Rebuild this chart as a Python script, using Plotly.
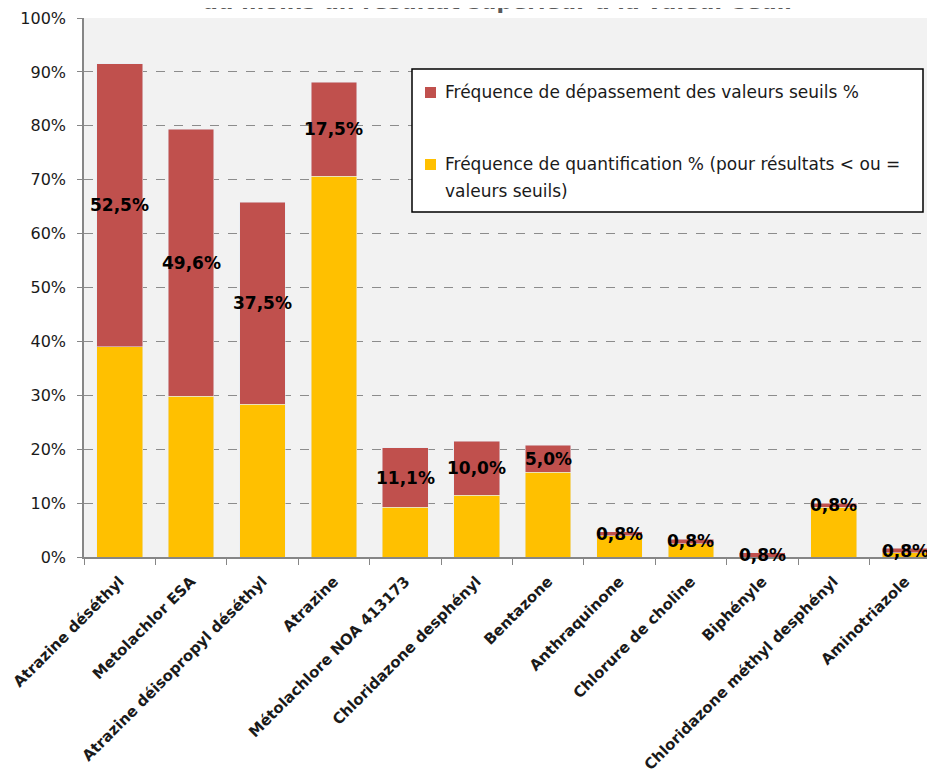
import plotly.graph_objects as go

categories = ["Atrazine déséthyl", "Metolachlor ESA", "Atrazine déisopropyl déséthyl",
              "Atrazine", "Métolachlore NOA 413173", "Chloridazone desphényl",
              "Bentazone", "Anthraquinone", "Chlorure de choline", "Biphényle",
              "Chloridazone méthyl desphényl", "Aminotriazole"]
quantif = [39.0, 29.8, 28.3, 70.6, 9.2, 11.5, 15.7, 3.9, 2.5, 0.0, 9.2, 0.8]
depass = [52.5, 49.6, 37.5, 17.5, 11.1, 10.0, 5.0, 0.8, 0.8, 0.8, 0.8, 0.8]

name_dep = "Fréquence de dépassement des valeurs seuils %"
name_q1 = "Fréquence de quantification % (pour résultats < ou ="
name_q2 = "valeurs seuils)"
title_text = "au moins un résultat supérieur à la valeur seuil"

RED = "#C0504D"
YEL = "#FFC000"
FONT = "DejaVu Sans"

# page has an 8px body margin; plot area in page pixels: x 84..943 (cropped at 935), y 18..557
OFF = 8
W, H = 943 - OFF, 772
L, T = 84 - OFF, 18 - OFF
PW = W - L
PH = 557 - 18
B = H - T - PH
XMAX = -0.5 + PW / 71.4


def px(x):
    return (x - 84) / PW


def py(y):
    return (557 - y) / PH


fig = go.Figure()
fig.add_trace(go.Bar(x=categories, y=quantif, marker_color=YEL, name=name_q1 + " " + name_q2,
                     showlegend=False, hoverinfo="y"))
fig.add_trace(go.Bar(x=categories, y=depass, marker_color=RED, name=name_dep,
                     showlegend=False, hoverinfo="y"))

annotations = []
for c, q, d in zip(categories, quantif, depass):
    annotations.append(dict(x=c, y=q + d / 2, xref="x", yref="y",
                            text=f"{d:.1f}".replace(".", ",") + "%", showarrow=False,
                            font=dict(family=FONT, size=17, color="black", weight="bold")))

# title (cut off at the top in the reference)
annotations.append(dict(x=px(497), y=py(2), xref="paper", yref="paper", text=title_text,
                        showarrow=False, xanchor="center", yanchor="middle",
                        font=dict(family=FONT, size=22, color="#595959", weight="bold")))

# legend texts
leg_font = dict(family=FONT, size=17, color="#1a1a1a")
for txt, yy in [(name_dep, 92), (name_q1, 164), (name_q2, 191)]:
    annotations.append(dict(x=px(443), y=py(yy), xref="paper", yref="paper", text=txt,
                            showarrow=False, xanchor="left", yanchor="middle", font=leg_font))

shapes = [
    dict(type="rect", xref="paper", yref="paper", x0=px(412), x1=px(923), y0=py(212), y1=py(69),
         line=dict(color="black", width=1.5), fillcolor="white", layer="above"),
    dict(type="rect", xref="paper", yref="paper", x0=px(425), x1=px(436), y0=py(98), y1=py(87),
         line=dict(width=0), fillcolor=RED, layer="above"),
    dict(type="rect", xref="paper", yref="paper", x0=px(425), x1=px(436), y0=py(170), y1=py(159),
         line=dict(width=0), fillcolor=YEL, layer="above"),
]

fig.update_layout(
    width=W, height=H,
    barmode="stack", bargap=0.36,
    paper_bgcolor="white", plot_bgcolor="#F2F2F2",
    margin=dict(l=L, r=0, t=T, b=B, autoexpand=False),
    showlegend=False,
    annotations=annotations,
    shapes=shapes,
    font=dict(family=FONT, color="#1a1a1a"),
)
fig.update_xaxes(type="category", range=[-0.5, XMAX], tickangle=-45,
                 tickfont=dict(family=FONT, size=15, color="#1a1a1a", weight="bold"),
                 showline=True, linecolor="#868686", linewidth=1.5,
                 ticks="outside", tickson="boundaries", ticklen=6, tickcolor="#868686",
                 ticklabelstandoff=8, showgrid=False)
fig.update_yaxes(range=[0, 100], dtick=10, ticksuffix="%",
                 tickfont=dict(family=FONT, size=16, color="#1a1a1a"),
                 showline=True, linecolor="#868686", linewidth=1.5,
                 ticks="outside", ticklen=5, tickcolor="#868686", ticklabelstandoff=8,
                 showgrid=True, gridcolor="#8C8C8C", griddash="dash", gridwidth=1,
                 zeroline=False)

fig.write_html("out.html")
